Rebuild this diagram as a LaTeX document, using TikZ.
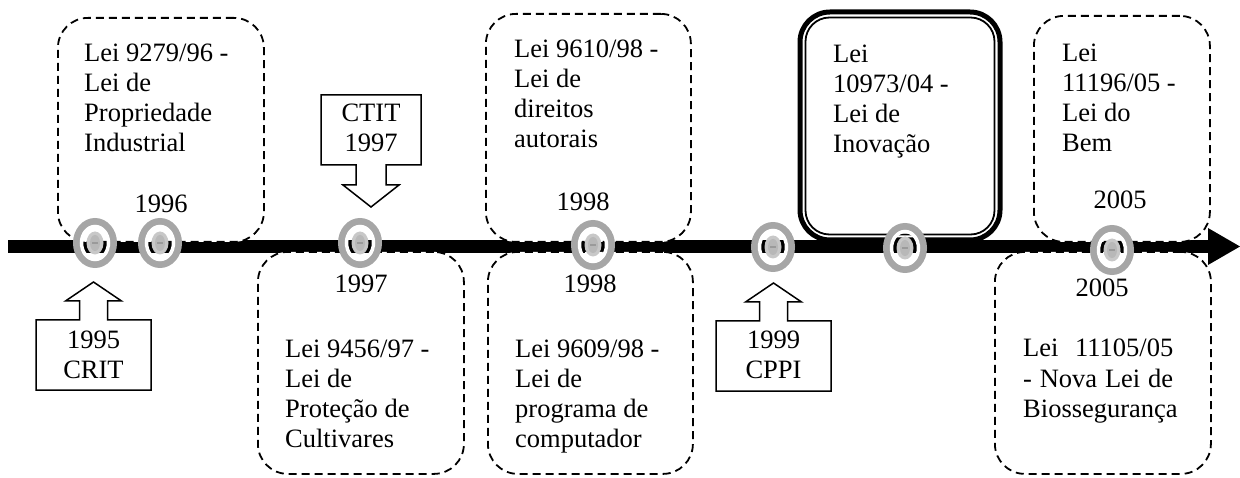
\documentclass[tikz,border=0pt]{standalone}
\usepackage{fontspec}
\setmainfont{Liberation Serif}
\usetikzlibrary{arrows.meta}
\definecolor{ringgray}{HTML}{A6A6A6}
\definecolor{dotgray}{HTML}{C8C8C8}
\definecolor{dotcore}{HTML}{B8B8B8}
\definecolor{dotline}{HTML}{9A9A9A}
\begin{document}
\begin{tikzpicture}[x=1pt,y=-1pt,
  txt/.style={font=\fontsize{26.5}{30}\selectfont, inner sep=0pt},
  lawbox/.style={draw, rectangle, dash pattern=on 8pt off 5pt, line width=1.8pt,
    rounded corners=30pt, fill=white, inner sep=0pt, anchor=north west},
  % multi-line texts are placed by the baseline of their last line
  lawtext/.style={txt, align=left, anchor=base west},
  yeartext/.style={txt, anchor=base},
  callout/.style={draw, line width=1.5pt, fill=white, line join=miter},
  calltext/.style={txt, align=center, anchor=base},
  tlmark/.pic={
    \draw[ringgray, line width=7pt] (0,0) ellipse [x radius=18.5, y radius=21.5];
    \draw[white, line width=3.5pt] (0,0) ellipse [x radius=13.5, y radius=16.5];
    \fill[dotgray] (0,0) ellipse [x radius=8.5, y radius=11.5];
    \fill[dotcore] (0,0) ellipse [x radius=5, y radius=8];
    \draw[dotline, line width=1.2pt] (-3,0) -- (3,0);
  }]
\useasboundingbox (0,0) rectangle (1240,478);

% timeline bar and its head
\coordinate (tl-start) at (8,246.5);
\coordinate (tl-base) at (1208,246.5);
\draw[line width=13pt] (tl-start) -- (tl-base);
\fill (1208,228) -- (1240,246.5) -- (1208,265) -- cycle;

% dashed law boxes
\node[lawbox, minimum width=206pt, minimum height=224pt] (b1) at (57,17) {};
\node[lawbox, minimum width=206pt, minimum height=222pt] (b2) at (257,251) {};
\node[lawbox, minimum width=205pt, minimum height=228pt] (b3) at (485,13) {};
\node[lawbox, minimum width=205pt, minimum height=222pt] (b4) at (487,251) {};
\node[lawbox, minimum width=176pt, minimum height=226pt] (b6) at (1033,15) {};
\node[lawbox, minimum width=216pt, minimum height=222pt] (b7) at (994,251) {};

% highlighted box with double frame
\node[draw, rectangle, line width=5pt, rounded corners=30pt, fill=white, inner sep=0pt,
  anchor=north west, minimum width=200pt, minimum height=228pt] (b5) at (797.5,9.5) {};
\node[draw, rectangle, line width=1.8pt, rounded corners=24pt, inner sep=0pt,
  minimum width=189pt, minimum height=217pt] (b5in) at (b5.center) {};

% texts of the law boxes
\node[lawtext] (t1) at (84,152) {Lei 9279/96 -\\Lei de\\Propriedade\\Industrial};
\node[yeartext] (y1) at (161,213) {1996};
\node[yeartext] (y2) at (361,293) {1997};
\node[lawtext] (t2) at (285,447) {Lei 9456/97 -\\Lei de\\Proteção de\\Cultivares};
\node[lawtext] (t3) at (514,148) {Lei 9610/98 -\\Lei de\\direitos\\autorais};
\node[yeartext] (y3) at (583,211) {1998};
\node[yeartext] (y4) at (590,293) {1998};
\node[lawtext] (t4) at (515,447) {Lei 9609/98 -\\Lei de\\programa de\\computador};
\node[lawtext] (t5) at (833,153) {Lei\\10973/04 -\\Lei de\\Inovação};
\node[lawtext] (t6) at (1062,152) {Lei\\11196/05 -\\Lei do\\Bem};
\node[yeartext] (y6) at (1120,209) {2005};
\node[yeartext] (y7) at (1102,297) {2005};
% justified block, placed by the baseline of its last line
\node[lawtext] (t7) at (1023,417)
  {\makebox[150pt][s]{Lei 11105/05}\\\makebox[150pt][s]{- Nova Lei de}\\Biossegurança};

% arrow callouts
\draw[callout] (321,95) -- (421,95) -- (421,165) -- (386,165) -- (386,185) -- (399,185)
  -- (371,207) -- (343,185) -- (356,185) -- (356,165) -- (321,165) -- cycle;
\node[calltext] (ctit) at (371,152) {CTIT\\1997};
\draw[callout] (93.5,282) -- (121.5,301) -- (107.5,301) -- (107.5,320) -- (151,320)
  -- (151,390) -- (36,390) -- (36,320) -- (79.5,320) -- (79.5,301) -- (65.5,301) -- cycle;
\node[calltext] (crit) at (93.5,378) {1995\\CRIT};
\draw[callout] (773.5,283) -- (801.5,302) -- (787.5,302) -- (787.5,321) -- (831,321)
  -- (831,391) -- (716,391) -- (716,321) -- (759.5,321) -- (759.5,302) -- (745.5,302) -- cycle;
\node[calltext] (cppi) at (773.5,378) {1999\\CPPI};

% markers on the timeline
\pic (m1) at (95,243) {tlmark};
\pic (m2) at (160,243) {tlmark};
\pic (m3) at (360,243) {tlmark};
\pic (m4) at (593,245) {tlmark};
\pic (m5) at (773,247) {tlmark};
\pic (m6) at (905,248) {tlmark};
\pic (m7) at (1112,250) {tlmark};
\end{tikzpicture}
\end{document}
